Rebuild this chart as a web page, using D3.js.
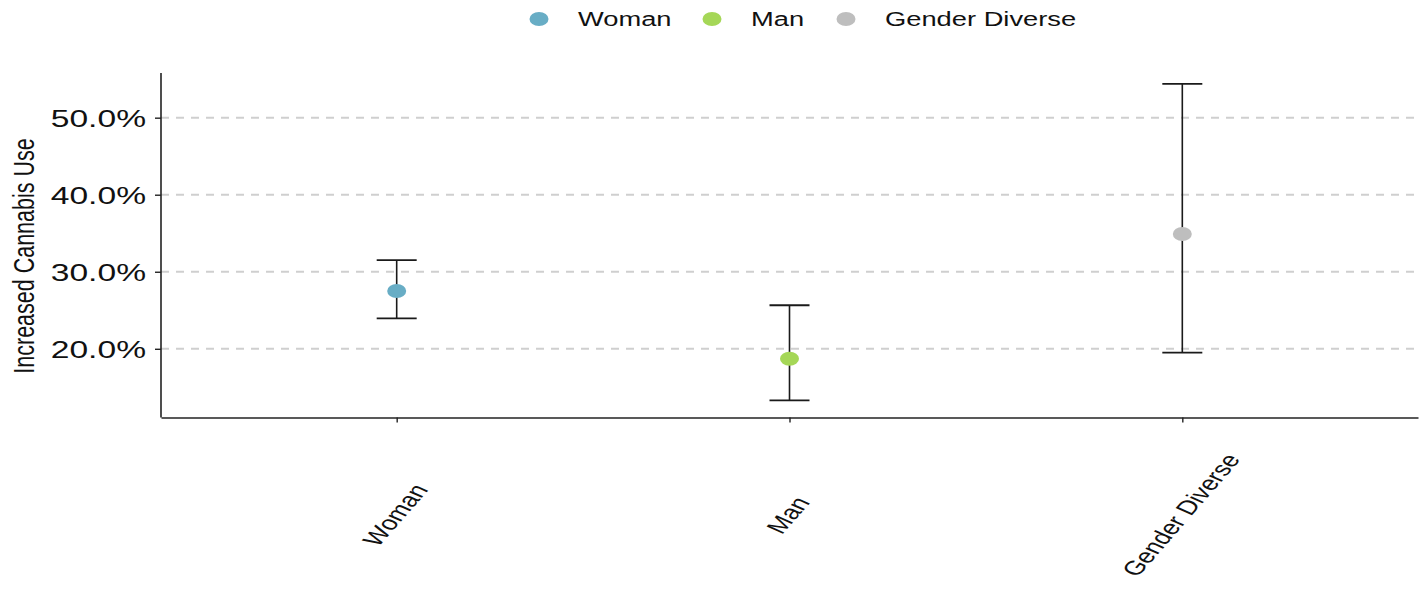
<!DOCTYPE html>
<html>
<head>
<meta charset="utf-8">
<script src="https://cdn.jsdelivr.net/npm/d3@7"></script>
<style>
  html, body { margin: 0; padding: 0; background: #fff; }
  svg { display: block; font-family: "Liberation Sans", Arial, Helvetica, sans-serif; }
</style>
</head>
<body>
<svg id="chart" width="1422" height="592"></svg>
<script>
// Increased cannabis use by gender, with confidence intervals (percent)
const categories = ["Woman", "Man", "Gender Diverse"];
const estimates  = [27.5, 18.7, 34.9];
const lowerCI    = [23.95, 13.3, 19.5];
const upperCI    = [31.5, 25.65, 54.4];
const colors     = ["#68adc5", "#a5d757", "#bebebe"];
const yTicks     = [20, 30, 40, 50];
const yTitle     = "Increased Cannabis Use";

const W = 1422, H = 592;
const margin = { left: 161, right: 4, top: 73, bottom: 175 };
const SX = 1.4; // horizontal text stretch

const svg = d3.select("#chart");

const x = d3.scalePoint()
  .domain(categories)
  .range([margin.left, W - margin.right])
  .padding(0.6);

const y = d3.scaleLinear()
  .domain([11.08, 55.8])
  .range([H - margin.bottom + 0.5, margin.top]);

const fmt = d => d3.format(".1f")(d) + "%";

// dashed horizontal gridlines
svg.append("g")
  .selectAll("line")
  .data(yTicks)
  .join("line")
  .attr("x1", margin.left)
  .attr("x2", W - margin.right)
  .attr("y1", d => y(d))
  .attr("y2", d => y(d))
  .attr("stroke", "#cfcfcf")
  .attr("stroke-width", 2)
  .attr("stroke-dasharray", "8,7");

// y axis
const yAxis = svg.append("g")
  .attr("transform", `translate(${margin.left},0)`)
  .call(d3.axisLeft(y).tickValues(yTicks).tickSize(6).tickFormat(fmt));
yAxis.select(".domain").attr("stroke", "#222").attr("stroke-width", 1.6)
  .attr("d", `M0,${y.range()[1]}V${y.range()[0]}`);
yAxis.selectAll(".tick line").attr("stroke", "#222").attr("stroke-width", 1.4);
yAxis.selectAll(".tick text").remove();
yAxis.selectAll(".tick")
  .append("text")
  .attr("transform", `translate(-15,8.5) scale(${SX},1)`)
  .attr("text-anchor", "end")
  .attr("fill", "#111")
  .attr("font-size", 24)
  .text(d => fmt(d));

// x axis
const xAxis = svg.append("g")
  .attr("transform", `translate(0,${y.range()[0]})`)
  .call(d3.axisBottom(x).tickSize(5).tickSizeOuter(0));
xAxis.select(".domain").attr("stroke", "#222").attr("stroke-width", 1.6);
xAxis.selectAll(".tick line").attr("stroke", "#222").attr("stroke-width", 1.4);
xAxis.selectAll(".tick text").remove();
xAxis.selectAll(".tick")
  .append("text")
  .attr("transform", `translate(-2,${515 - y.range()[0]}) scale(${SX},1) rotate(-58)`)
  .attr("text-anchor", "middle")
  .attr("dominant-baseline", "central")
  .attr("fill", "#111")
  .attr("font-size", 20)
  .text(d => d);

// y axis title
svg.append("text")
  .attr("transform", `translate(24,256) scale(${SX},1) rotate(-90)`)
  .attr("text-anchor", "middle")
  .attr("dominant-baseline", "central")
  .attr("fill", "#111")
  .attr("font-size", 21.5)
  .text(yTitle);

// error bars
const rows = categories.map((c, i) => ({ c, est: estimates[i], lo: lowerCI[i], hi: upperCI[i], color: colors[i] }));
const capHalf = 20;
const eb = svg.append("g").selectAll("g").data(rows).join("g");
eb.append("line")
  .attr("x1", d => x(d.c)).attr("x2", d => x(d.c))
  .attr("y1", d => y(d.hi)).attr("y2", d => y(d.lo))
  .attr("stroke", "#1a1a1a").attr("stroke-width", 1.6);
eb.append("line")
  .attr("x1", d => x(d.c) - capHalf).attr("x2", d => x(d.c) + capHalf)
  .attr("y1", d => y(d.hi)).attr("y2", d => y(d.hi))
  .attr("stroke", "#1a1a1a").attr("stroke-width", 1.8);
eb.append("line")
  .attr("x1", d => x(d.c) - capHalf).attr("x2", d => x(d.c) + capHalf)
  .attr("y1", d => y(d.lo)).attr("y2", d => y(d.lo))
  .attr("stroke", "#1a1a1a").attr("stroke-width", 1.8);

// point estimates
eb.append("ellipse")
  .attr("cx", d => x(d.c))
  .attr("cy", d => y(d.est))
  .attr("rx", 9.5)
  .attr("ry", 7)
  .attr("fill", d => d.color);

// legend
const legendX = [539, 712, 846];
const leg = svg.append("g").selectAll("g").data(rows).join("g")
  .attr("transform", (d, i) => `translate(${legendX[i]},19)`);
leg.append("ellipse").attr("rx", 9.5).attr("ry", 7).attr("fill", d => d.color);
leg.append("text")
  .attr("transform", `translate(39,7) scale(${SX},1)`)
  .attr("fill", "#111")
  .attr("font-size", 19.5)
  .text(d => d.c);
</script>
</body>
</html>
